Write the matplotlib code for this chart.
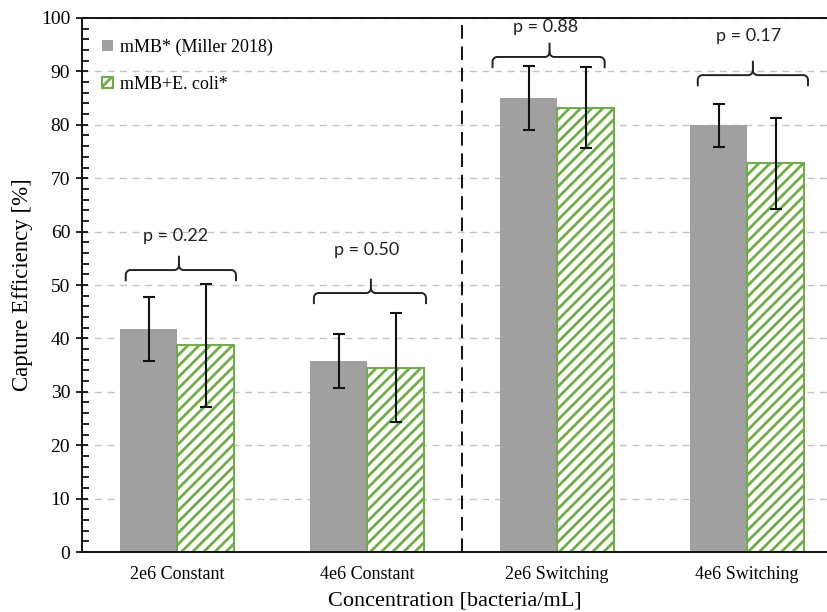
import numpy as np
import matplotlib.pyplot as plt

categories = ["2e6 Constant", "4e6 Constant", "2e6 Switching", "4e6 Switching"]
series_names = ["mMB* (Miller 2018)", "mMB+E. coli*"]
miller_mean = [41.8, 35.8, 85.0, 79.9]
miller_err = [6.0, 5.0, 6.0, 4.0]
ecoli_mean = [38.7, 34.5, 83.2, 72.8]
ecoli_err = [11.5, 10.2, 7.6, 8.5]
p_labels = ["p = 0.22", "p = 0.50", "p = 0.88", "p = 0.17"]
brace_y = [52.8, 48.5, 92.7, 89.3]

GRAY = "#a0a0a0"
GREEN = "#70ad47"
SERIF = ["Liberation Serif", "DejaVu Serif"]

plt.rcParams["hatch.linewidth"] = 2.0
plt.rcParams["hatch.color"] = GREEN


def draw_brace(ax, x1, x2, xt, y, hook=1.9, tip=2.5, rx=0.025, ry=0.9):
    th = np.linspace(0, np.pi / 2, 12)
    # left end, curling from the hook into the horizontal
    lx = x1 + rx - rx * np.cos(th)
    ly = y - ry + ry * np.sin(th)
    # horizontal into the tip (left side)
    tlx = xt - rx + rx * np.sin(th)
    tly = y + ry - ry * np.cos(th)
    xs = np.concatenate([[x1], lx, tlx, [xt]])
    ys = np.concatenate([[y - hook], ly, tly, [y + tip]])
    ax.plot(xs, ys, color="#222222", lw=1.4, zorder=4)
    # tip (right side) into the horizontal, then right end
    trx = xt + rx - rx * np.cos(th)
    try_ = y + ry - ry * np.sin(th)
    rxs = x2 - rx + rx * np.sin(th)
    rys = y - ry + ry * np.cos(th)
    xs = np.concatenate([trx, rxs, [x2]])
    ys = np.concatenate([try_, rys, [y - hook]])
    ax.plot(xs, ys, color="#222222", lw=1.4, zorder=4)


fig = plt.figure(figsize=(8.27, 6.12), dpi=100)
ax = fig.add_axes([0.0992, 0.098, 0.9008, 0.8726])

x = np.arange(len(categories))
w = 0.3
ax.bar(x - w / 2, miller_mean, w, color=GRAY, label=series_names[0], zorder=2)
ax.bar(x + w / 2, ecoli_mean, w, color="white", edgecolor=GREEN, hatch="///",
       linewidth=1.5, label=series_names[1], zorder=2)
ax.errorbar(x - w / 2, miller_mean, yerr=miller_err, fmt="none", ecolor="#111111",
            elinewidth=1.5, capsize=4, capthick=1.5, zorder=3)
ax.errorbar(x + w / 2, ecoli_mean, yerr=ecoli_err, fmt="none", ecolor="#111111",
            elinewidth=1.5, capsize=4, capthick=1.5, zorder=3)

# braces and p-values
brace_lo = [-0.27, -0.28, -0.34, -0.26]
brace_hi = [0.31, 0.31, 0.25, 0.32]
brace_tip = [0.01, 0.02, -0.04, 0.03]
text_y = [59.2, 56.6, 98.3, 96.6]
for i in range(len(categories)):
    draw_brace(ax, x[i] + brace_lo[i], x[i] + brace_hi[i], x[i] + brace_tip[i], brace_y[i])
    ax.text(x[i] + brace_tip[i] - 0.02, text_y[i], p_labels[i], ha="center", va="center",
            fontsize=13, family=["Lato", "DejaVu Sans"], color="#222222")

ax.axvline(1.5, color="#111111", lw=1.4, ls=(0, (7, 4)), zorder=3)

ax.set_xlim(-0.5, 3.42)
ax.set_ylim(0, 100)
ax.set_yticks(np.arange(0, 101, 10))
ax.set_yticks(np.arange(0, 101, 2), minor=True)
ax.yaxis.grid(True, which="major", color="#c4c4c4", ls=(0, (5, 4)), lw=1.0, zorder=0)
ax.set_axisbelow(True)
ax.tick_params(axis="y", which="major", direction="inout", length=9, width=1.2,
               labelsize=14, pad=4)
ax.tick_params(axis="y", which="minor", direction="in", length=5, width=1.2)
ax.tick_params(axis="x", length=0, labelsize=13, pad=10)
ax.set_xticks(x)
ax.set_xticklabels(categories)
for lab in ax.get_xticklabels() + ax.get_yticklabels():
    lab.set_family(SERIF)

for s in ["left", "bottom", "top"]:
    ax.spines[s].set_color("#111111")
    ax.spines[s].set_linewidth(1.4)
ax.spines["right"].set_visible(False)

ax.set_xlabel("Concentration [bacteria/mL]", fontsize=16, family=SERIF, labelpad=6)
ax.set_ylabel("Capture Efficiency [%]", fontsize=16.5, family=SERIF, labelpad=6)

leg = ax.legend(loc="upper left", bbox_to_anchor=(0.003, 0.995), frameon=False,
                prop={"family": SERIF, "size": 13}, handlelength=0.6, handleheight=0.6,
                handletextpad=0.4, labelspacing=1.1, borderaxespad=0.6)

fig.savefig("out.png", dpi=100)
